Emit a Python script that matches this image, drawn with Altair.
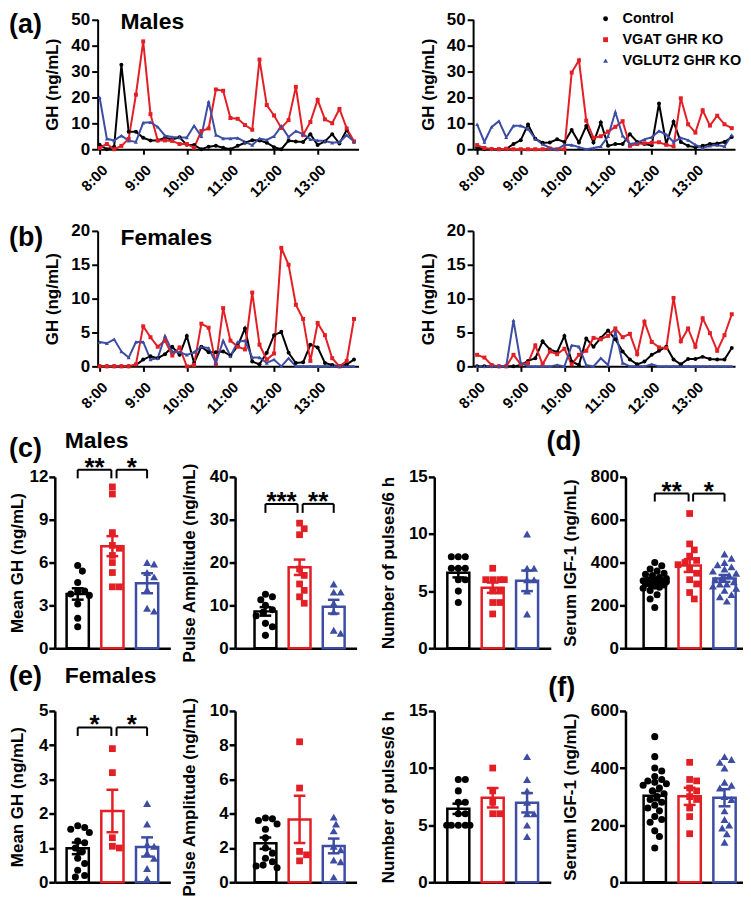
import altair as alt
import pandas as pd

FONT = "Liberation Sans"
GROUPS = ["Control", "VGAT GHR KO", "VGLUT2 GHR KO"]
COLORS = ["#000000", "#E31F26", "#3D4DA3"]
SHAPES = ["circle", "square", "triangle-up"]

TIMES = ["8:00", "8:10", "8:20", "8:30", "8:40", "8:50", "9:00", "9:10", "9:20", "9:30",
         "9:40", "9:50", "10:00", "10:10", "10:20", "10:30", "10:40", "10:50", "11:00", "11:10",
         "11:20", "11:30", "11:40", "11:50", "12:00", "12:10", "12:20", "12:30", "12:40", "12:50",
         "13:00", "13:10", "13:20", "13:30", "13:40", "13:50"]
HOUR_TICKS = ["8:00", "9:00", "10:00", "11:00", "12:00", "13:00"]

# (a) males, left animal set
ML_CTRL = [1.7, 0, 1.0, 32.5, 6.7, 6.7, 4.4, 3.4, 3.4, 4.4, 3.8, 4.6, 1.7, 1.6, 0, 1.0, 1.3, 0.6, 0, 1.3,
           2.5, 3.5, 3.4, 2.5, 0.8, 0, 3.3, 3.0, 2.8, 5.8, 1.6, 3.0, 5.8, 2.2, 7.4, 2.9]
ML_VGAT = [0.5, 2, 0, 1.3, 4, 21, 41.5, 13.5, 3.4, 3.4, 3.2, 2, 2, 0.6, 7, 8, 23, 22.5, 12, 11.7,
           9.3, 7.5, 34.5, 17, 13, 8.2, 11.2, 24, 5.5, 10.5, 19, 11.5, 10, 15.5, 8, 3]
ML_VGLUT = [20, 4, 3.4, 5.2, 3.3, 2.8, 10.2, 10.4, 8.6, 5.2, 4.7, 4.5, 4.5, 9, 5, 18.4, 5.5, 4.1, 4.1, 4.3,
            2.8, 1.6, 4.1, 3.6, 5, 8.9, 4.7, 7, 5.8, 3.8, 3.4, 3.2, 2.5, 2.8, 5.4, 3]
# (a) males, right
MR_CTRL = [0.7, 0, 0, 0, 0.1, 2, 3.5, 9.5, 4, 2.5, 2.6, 3.8, 2.8, 7.4, 2.6, 8.9, 2.6, 10.3, 1.3, 2,
           2, 5.8, 2.8, 2, 1.5, 17.6, 2, 10.6, 2.8, 1.3, 0.8, 1.3, 2, 2.2, 2.8, 4.7]
MR_VGAT = [1.6, 0.5, 0.1, 0, 0.2, 0, 0, 0, 0, 0, 0.3, 0, 0, 29.5, 34.2, 11, 4.4, 5, 6.8, 8.6,
           10.8, 1.3, 2, 2.3, 2.5, 2.7, 1.7, 1.1, 19.6, 9.6, 6.4, 15, 9.1, 12.9, 9.6, 8.1]
MR_VGLUT = [9.6, 2.8, 8.6, 10.8, 4.6, 9, 9, 7.8, 4, 2, 0.5, 0, 1.7, 1.6, 0.8, 0, 0.5, 1.1, 5, 14.3,
            5.2, 2, 2.5, 3.8, 4.6, 7, 5.6, 2.8, 4.4, 3.5, 1.7, 0.5, 1.3, 1.6, 1.1, 5.5]
# (b) females, left
FL_CTRL = [0, 0, 0, 0, 0, 0.2, 1.0, 1.5, 1.2, 1.8, 2.9, 1.7, 4.5, 0.5, 2.9, 2.1, 2.1, 2.2, 1.6, 3.0,
           5.6, 0.7, 0.3, 2.0, 4.6, 5.1, 2.0, 0.5, 0.6, 3.2, 2.8, 0.5, 0.2, 0, 0.3, 1.0]
FL_VGAT = [0, 0, 0, 0, 0, 0.3, 5.9, 4.3, 2.9, 3.8, 1.6, 2.8, 0, 0.2, 6.3, 5.7, 0.3, 8.6, 3.8, 2.9,
           2.5, 10.9, 3.2, 1.0, 1.9, 17.5, 15, 9.1, 7, 0.8, 6.4, 4.6, 1.2, 0, 0.8, 7]
FL_VGLUT = [3.6, 3.4, 4.0, 2.2, 1.3, 3.6, 3.6, 1.0, 1.2, 4.5, 2.2, 2.1, 1.7, 2.1, 2.9, 2.7, 0.5, 3.8, 1.5, 3.6,
            3.8, 1.3, 1.3, 0.5, 1.0, 0, 1.2, 0, 0, 0, 0, 0, 0, 0, 0, 0]
# (b) females, right
FR_CTRL = [0, 0, 0, 0, 0, 0, 0.2, 0.8, 1.2, 3.7, 2.5, 2.1, 4.5, 0.7, 0.2, 4.1, 2.9, 4.2, 5.3, 4.0,
           2.2, 1.0, 0.3, 0.7, 1.7, 2.3, 2.9, 1.0, 0.3, 1.1, 1.1, 1.4, 1.1, 1.0, 1.0, 2.7]
FR_VGAT = [1.7, 1.3, 0.2, 0, 0, 1.7, 0.3, 0.5, 3.1, 0.3, 2.2, 1.8, 2.6, 0.3, 1.7, 2.3, 4.2, 4.0, 4.5, 5.6,
           4.3, 4.8, 1.8, 6.6, 3.6, 2.8, 2.7, 10.1, 3.7, 5.6, 2.9, 7.1, 4.9, 2.3, 4.6, 7.7]
FR_VGLUT = [0, 0, 0, 0, 0, 6.8, 0.5, 0, 0, 0, 0, 0.2, 0, 3.1, 2.9, 0.2, 0, 1.2, 0.2, 5.2,
            0.5, 0, 0, 0, 0.3, 0, 0, 0, 0, 0, 0, 0, 0, 0, 0, 0]

# (c) males
MGH_M_CTRL = [5.8, 5.4, 4.6, 4.0, 4.0, 3.8, 3.7, 3.1, 2.1, 1.5]
MGH_M_VGAT = [11.3, 10.8, 8.1, 7.2, 7.0, 6.5, 6.0, 5.3, 4.3, 4.3]
MGH_M_VGLUT = [6.0, 5.9, 5.3, 5.0, 4.1, 2.8, 2.6]
MGH_M_MEAN = [3.8, 7.15, 4.55]
MGH_M_SEM = [0.4, 0.7, 0.7]

PA_M_CTRL = [12.6, 12.0, 11.3, 10.0, 9.0, 8.4, 7.6, 5.8, 5.0, 3.0]
PA_M_VGAT = [29.2, 27.9, 26.5, 18.5, 17.0, 15.0, 13.5, 12.0, 10.5]
PA_M_VGLUT = [15.0, 13.1, 13.1, 10.5, 8.5, 4.2, 3.5]
PA_M_MEAN = [8.6, 18.9, 9.7]
PA_M_SEM = [1.0, 1.8, 1.6]

NP_M_CTRL = [8, 8, 8, 7, 7, 7, 6, 6, 5, 4]
NP_M_VGAT = [7, 6, 6, 6, 6, 5, 5, 4, 4, 3]
NP_M_VGLUT = [10, 7, 7, 6, 6, 5, 3]
NP_M_MEAN = [6.6, 5.3, 5.9]
NP_M_SEM = [0.4, 0.45, 0.9]

# (d) males IGF-1
IGF_M_CTRL = [400, 385, 370, 360, 350, 345, 340, 330, 325, 320, 320, 315, 310, 310, 305, 300, 300, 295,
              290, 285, 280, 270, 250, 230, 190]
IGF_M_VGAT = [629, 487, 459, 430, 410, 400, 390, 370, 350, 320, 300, 260, 230]
IGF_M_VGLUT = [440, 420, 400, 390, 380, 370, 360, 350, 340, 330, 320, 310, 300, 300, 290, 280, 270,
               250, 240, 220]
IGF_M_MEAN = [313, 386, 326]
IGF_M_SEM = [10, 30, 16]

# (e) females
MGH_F_CTRL = [1.65, 1.6, 1.55, 1.45, 1.2, 1.15, 1.0, 0.9, 0.7, 0.55, 0.35, 0.2, 0.15]
MGH_F_VGAT = [3.9, 3.2, 1.3, 1.05, 1.0]
MGH_F_VGLUT = [2.3, 1.7, 1.1, 1.05, 0.85, 0.7, 0.4, 0.1]
MGH_F_MEAN = [0.99, 2.08, 1.03]
MGH_F_SEM = [0.17, 0.62, 0.28]

PA_F_CTRL = [3.75, 3.7, 3.6, 3.4, 3.1, 2.6, 2.0, 1.7, 1.4, 1.2, 1.0, 0.95, 0.85]
PA_F_VGAT = [8.2, 5.5, 1.8, 1.6, 1.25]
PA_F_VGLUT = [3.8, 3.4, 3.0, 2.1, 1.9, 1.3, 1.2, 0.3]
PA_F_MEAN = [2.28, 3.67, 2.12]
PA_F_SEM = [0.33, 1.38, 0.43]

NP_F_CTRL = [9, 9, 8, 7, 7, 6, 6, 5, 5, 5, 5, 5]
NP_F_VGAT = [10, 8, 7, 6, 6]
NP_F_VGLUT = [11, 9, 8, 7, 6, 6, 5, 4]
NP_F_MEAN = [6.43, 7.4, 6.96]
NP_F_SEM = [0.45, 0.85, 0.85]

# (f) females IGF-1
IGF_F_CTRL = [510, 440, 400, 390, 370, 360, 355, 350, 345, 340, 330, 320, 310, 300, 290, 280, 270,
              260, 250, 230, 220, 210, 180, 160, 120]
IGF_F_VGAT = [420, 360, 355, 330, 320, 300, 290, 260, 230, 170]
IGF_F_VGLUT = [440, 430, 420, 400, 350, 340, 330, 300, 290, 250, 220, 200, 190, 170, 140]
IGF_F_MEAN = [303, 301, 296]
IGF_F_SEM = [16, 30, 30]

# significance brackets: (label, from group pos, to group pos, level, drop-to)
SIG_MGH_M = [("**", 0, 0.97, 12.5, 11.9), ("*", 1.12, 2, 12.5, 11.9)]
SIG_PA_M = [("***", 0, 0.94, 33.7, 31.6), ("**", 1.09, 2, 33.7, 31.6)]
SIG_IGF_M = [("**", 0, 0.97, 722, 685), ("*", 1.1, 2, 722, 685)]
SIG_MGH_F = [("*", 0, 0.97, 4.52, 4.27), ("*", 1.12, 2, 4.52, 4.27)]

COLOR_SCALE = alt.Scale(domain=GROUPS, range=COLORS)
SHAPE_SCALE = alt.Scale(domain=GROUPS, range=SHAPES)
ONE = pd.DataFrame({"k": [0]})


def to_min(t):
    h, m = t.split(":")
    return (int(h) - 8) * 60 + int(m)


def note(txt, x, y, size, align="left", baseline="alphabetic"):
    return alt.Chart(ONE).mark_text(
        text=txt, font=FONT, fontSize=size, fontWeight="bold", align=align,
        baseline=baseline, color="black"
    ).encode(x=alt.value(x), y=alt.value(y))


def legend_layers(x_sym, x_txt, ys):
    out = []
    for g, c, s, y in zip(GROUPS, COLORS, SHAPES, ys):
        out.append(alt.Chart(ONE).mark_point(shape=s, filled=True, opacity=1, size=24, color=c)
                   .encode(x=alt.value(x_sym), y=alt.value(y)))
        out.append(note(g, x_txt, y, 14.5, baseline="middle"))
    return out


def line_panel(series, ymax, yticks, total_w, x0, vis_w, xdom, total_h, top, notes):
    rows = []
    for g, vals in zip(GROUPS, series):
        for t, v in zip(TIMES, vals):
            rows.append({"t": to_min(t), "gh": v, "group": g})
    df = pd.DataFrame(rows)
    xax = alt.Axis(values=[to_min(t) for t in HOUR_TICKS],
                   labelExpr="floor(datum.value / 60) + 8 + ':00'",
                   title=None, grid=False, labelAngle=-45, labelAlign="right", labelBaseline="middle",
                   labelFont=FONT, labelFontSize=15, labelFontWeight="bold", labelColor="black",
                   labelPadding=13, labelOffset=5, labelOverlap=False, labelFlush=False,
                   tickSize=5, tickWidth=2, tickColor="black", domainWidth=2, domainColor="black")
    yax = alt.Axis(values=yticks, title="GH (ng/mL)", grid=False, offset=-x0,
                   labelFont=FONT, labelFontSize=17, labelFontWeight="bold", labelColor="black",
                   labelPadding=2, tickSize=6, tickWidth=2, tickColor="black",
                   domainWidth=2, domainColor="black",
                   titleFont=FONT, titleFontSize=17, titleFontWeight="bold", titleColor="black",
                   titlePadding=9)
    x = alt.X("t:Q", scale=alt.Scale(domain=xdom, range=[x0, x0 + vis_w], nice=False, zero=False), axis=xax)
    y = alt.Y("gh:Q", scale=alt.Scale(domain=[0, ymax], range=[total_h, top], nice=False), axis=yax)
    base = alt.Chart(df)
    lines = base.mark_line(strokeWidth=2).encode(
        x=x, y=y, color=alt.Color("group:N", scale=COLOR_SCALE, legend=None), order="t:Q")
    pts = base.mark_point(filled=True, opacity=1, size=16).encode(
        x=x, y=y,
        color=alt.Color("group:N", scale=COLOR_SCALE, legend=None),
        shape=alt.Shape("group:N", scale=SHAPE_SCALE, legend=None))
    return alt.layer(lines, pts, *notes).properties(width=total_w, height=total_h)


def swarm(vals, ppy, ppx, diam=7.0, maxoff=12.0):
    order = sorted(range(len(vals)), key=lambda k: -vals[k])
    step = diam / 3.0
    cands = [0.0]
    k = 1
    while k * step <= maxoff:
        cands += [k * step, -k * step]
        k += 1
    placed = []
    offs = [0.0] * len(vals)
    for idx in order:
        y = vals[idx] * ppy
        best, best_d = 0.0, -1.0
        for c in cands:
            d = min([((c - px) ** 2 + (y - py) ** 2) ** 0.5 for px, py in placed] or [1e9])
            if d >= diam:
                best = c
                break
            if d > best_d:
                best, best_d = c, d
        placed.append((best, y))
        offs[idx] = best / ppx
    return offs


PT_SIZE = [50, 46, 64]


def bar_panel(pts, means, sems, ymax, yticks, title, total_w, vis_w, xdom, total_h, top,
              sig, notes, title_x=None):
    ppx = vis_w / (xdom[1] - xdom[0])
    ppy = (total_h - top) / ymax
    xs = alt.Scale(domain=xdom, range=[0, vis_w], nice=False, zero=False)
    ys = alt.Scale(domain=[0, ymax], range=[total_h, top], nice=False)
    xax = alt.Axis(labels=False, ticks=False, title=None, grid=False, domainWidth=2.5, domainColor="black")
    yargs = dict(values=yticks, title=title, grid=False,
                 labelFont=FONT, labelFontSize=17, labelFontWeight="bold", labelColor="black",
                 labelPadding=1, tickSize=6, tickWidth=2.5, tickColor="black",
                 domainWidth=2.5, domainColor="black",
                 titleFont=FONT, titleFontSize=17, titleFontWeight="bold", titleColor="black",
                 titlePadding=11)
    if title_x is not None:
        yargs.update(titleX=title_x, titleBaseline="bottom")
    yax = alt.Axis(**yargs)

    def X(f):
        return alt.X(f, type="quantitative", scale=xs, axis=xax)

    def Y(f):
        return alt.Y(f, type="quantitative", scale=ys, axis=yax)

    bdf = pd.DataFrame({"group": GROUPS, "i": [0, 1, 2], "mean": means, "sem": sems})
    bdf["x1"] = bdf["i"] - 0.32
    bdf["x2"] = bdf["i"] + 0.32
    bdf["lo"] = bdf["mean"] - bdf["sem"]
    bdf["hi"] = bdf["mean"] + bdf["sem"]
    bdf["c1"] = bdf["i"] - 0.17
    bdf["c2"] = bdf["i"] + 0.17
    bdf["z"] = 0.0
    col = alt.Color("group:N", scale=COLOR_SCALE, legend=None)
    bc = alt.Chart(bdf)
    layers = [
        bc.mark_bar(fill="white", strokeWidth=2.5).encode(
            x=X("x1"), x2="x2:Q", y=Y("mean"), y2="z:Q",
            stroke=alt.Stroke("group:N", scale=COLOR_SCALE, legend=None)),
        bc.mark_rule(strokeWidth=2.5).encode(x=X("i"), y=Y("lo"), y2="hi:Q", color=col),
        bc.mark_rule(strokeWidth=2.5).encode(x=X("c1"), x2="c2:Q", y=Y("hi"), color=col),
        bc.mark_rule(strokeWidth=2.5).encode(x=X("c1"), x2="c2:Q", y=Y("lo"), color=col),
    ]
    for gi, vals in enumerate(pts):
        offs = swarm(vals, ppy, ppx)
        pdf = pd.DataFrame({"v": vals, "xp": [gi + o for o in offs]})
        layers.append(alt.Chart(pdf).mark_point(
            shape=SHAPES[gi], filled=True, opacity=1, size=PT_SIZE[gi], color=COLORS[gi]
        ).encode(x=X("xp"), y=Y("v")))
    if sig:
        sdf = pd.DataFrame(sig, columns=["lab", "a", "b", "lev", "drop"])
        sdf["m"] = (sdf["a"] + sdf["b"]) / 2
        sc = alt.Chart(sdf)
        layers += [
            sc.mark_rule(strokeWidth=2, color="black").encode(x=X("a"), x2="b:Q", y=Y("lev")),
            sc.mark_rule(strokeWidth=2, color="black").encode(x=X("a"), y=Y("lev"), y2="drop:Q"),
            sc.mark_rule(strokeWidth=2, color="black").encode(x=X("b"), y=Y("lev"), y2="drop:Q"),
            sc.mark_text(font=FONT, fontSize=26, fontWeight="bold", baseline="alphabetic",
                         dy=6, color="black").encode(x=X("m"), y=Y("lev"), text="lab:N"),
        ]
    layers += notes
    return alt.layer(*layers).properties(width=total_w, height=total_h)


def spacer(w):
    return alt.Chart(ONE).mark_point(opacity=0).encode(
        x=alt.X("k:Q", axis=None), y=alt.Y("k:Q", axis=None)).properties(width=w, height=1)


# geometry (column widths 179, 198, 190, 118; spacing 2)
W = [179, 198, 190, 118]
H1, T1 = 137, 6.5
H2, T2 = 208, 72
H3, T3 = 273, 101
H4, T4 = 225, 53
XL = [-2.7, 356.3]
XR = [-5.5, 354.5]

a_left = line_panel((ML_CTRL, ML_VGAT, ML_VGLUT), 50, [0, 10, 20, 30, 40, 50], W[0], 43, 262, XL, H1, T1,
                    [note("(a)", -46, 20, 27), note("Males", 66, 16, 23)])
a_right = line_panel((MR_CTRL, MR_VGAT, MR_VGLUT), 50, [0, 10, 20, 30, 40, 50], W[2], 39, 263, XR, H1, T1,
                     legend_layers(172, 189, [6, 27, 48]))
b_left = line_panel((FL_CTRL, FL_VGAT, FL_VGLUT), 20, [0, 5, 10, 15, 20], W[0], 43, 262, XL, H2, T2,
                    [note("(b)", -46, 87, 27), note("Females", 66, 86, 23)])
b_right = line_panel((FR_CTRL, FR_VGAT, FR_VGLUT), 20, [0, 5, 10, 15, 20], W[2], 39, 263, XR, H2, T2, [])

D1 = [-0.66, 2.67]
D2 = [-0.89, 2.67]
D3 = [-0.70, 2.69]
D4 = [-0.84, 2.53]

c1 = bar_panel((MGH_M_CTRL, MGH_M_VGAT, MGH_M_VGLUT), MGH_M_MEAN, MGH_M_SEM, 12, [0, 3, 6, 9, 12],
               "Mean GH (ng/mL)", W[0], 116, D1, H3, T3, SIG_MGH_M,
               [note("(c)", -46, 81, 27), note("Males", 10, 72, 23)], title_x=-28.5)
c2 = bar_panel((PA_M_CTRL, PA_M_VGAT, PA_M_VGLUT), PA_M_MEAN, PA_M_SEM, 40, [0, 10, 20, 30, 40],
               "Pulse Amplitude (ng/mL)", W[1], 122, D2, H3, T3, SIG_PA_M, [])
c3 = bar_panel((NP_M_CTRL, NP_M_VGAT, NP_M_VGLUT), NP_M_MEAN, NP_M_SEM, 15, [0, 5, 10, 15],
               "Number of pulses/6 h", W[2], 117, D3, H3, T3, None, [])
d1 = bar_panel((IGF_M_CTRL, IGF_M_VGAT, IGF_M_VGLUT), IGF_M_MEAN, IGF_M_SEM, 800, [0, 200, 400, 600, 800],
               "Serum IGF-1 (ng/mL)", W[3], 118, D4, H3, T3, SIG_IGF_M,
               [note("(d)", -62, 74, 27, "center")])

e1 = bar_panel((MGH_F_CTRL, MGH_F_VGAT, MGH_F_VGLUT), MGH_F_MEAN, MGH_F_SEM, 5, [0, 1, 2, 3, 4, 5],
               "Mean GH (ng/mL)", W[0], 116, D1, H4, T4, SIG_MGH_F,
               [note("(e)", -46, 27, 27), note("Females", 10, 25, 23)], title_x=-28.5)
e2 = bar_panel((PA_F_CTRL, PA_F_VGAT, PA_F_VGLUT), PA_F_MEAN, PA_F_SEM, 10, [0, 2, 4, 6, 8, 10],
               "Pulse Amplitude (ng/mL)", W[1], 122, D2, H4, T4, None, [])
e3 = bar_panel((NP_F_CTRL, NP_F_VGAT, NP_F_VGLUT), NP_F_MEAN, NP_F_SEM, 15, [0, 5, 10, 15],
               "Number of pulses/6 h", W[2], 117, D3, H4, T4, None, [])
f1 = bar_panel((IGF_F_CTRL, IGF_F_VGAT, IGF_F_VGLUT), IGF_F_MEAN, IGF_F_SEM, 600, [0, 200, 400, 600],
               "Serum IGF-1 (ng/mL)", W[3], 118, D4, H4, T4, None,
               [note("(f)", -64, 38, 27, "center")])

chart = alt.concat(
    a_left, spacer(W[1]), a_right, spacer(W[3]),
    b_left, spacer(W[1]), b_right, spacer(W[3]),
    c1, c2, c3, d1,
    e1, e2, e3, f1,
    columns=4,
    spacing={"row": 10, "column": 2},
    bounds="flush",
    align="each",
).properties(padding=0).configure_view(stroke=None)

chart.save("out.html", embed_options={"renderer": "svg", "actions": False})
